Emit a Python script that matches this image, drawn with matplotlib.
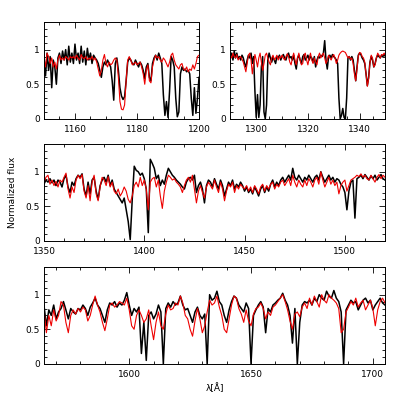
import numpy as np
import matplotlib
matplotlib.use("Agg")
import matplotlib.pyplot as plt
from matplotlib.ticker import MultipleLocator

# ---------------- data ----------------
# Panel 1: 1150-1200 A, step 0.5
wl1_start, wl1_step = 1150.0, 0.5
obs1 = [0.85, 0.62, 0.95, 0.70, 0.90, 0.45, 0.85, 0.75, 0.50, 0.88,
        0.95, 0.80, 0.98, 0.85, 1.00, 0.78, 1.05, 0.82, 0.95, 0.80,
        1.08, 0.85, 0.95, 0.80, 1.05, 0.82, 0.98, 0.78, 1.02, 0.85,
        0.95, 0.80, 0.92, 0.88, 0.85, 0.80, 0.70, 0.60, 0.75, 0.82,
        0.78, 0.85, 0.80, 0.75, 0.55, 0.27, 0.80, 0.88, 0.70, 0.45,
        0.33, 0.28, 0.32, 0.55, 0.82, 0.88, 0.85, 0.80, 0.78, 0.85,
        0.80, 0.75, 0.82, 0.78, 0.70, 0.58, 0.75, 0.80, 0.60, 0.55,
        0.80, 0.88, 0.92, 0.85, 0.95, 0.88, 0.80, 0.35, 0.05, 0.25,
        0.02, 0.40, 0.90, 0.85, 0.75, 0.30, 0.03, 0.10, 0.65, 0.75,
        0.70, 0.72, 0.68, 0.70, 0.65, 0.30, 0.05, 0.45, 0.08, 0.30,
        0.60]
mod1 = [0.88, 0.75, 0.95, 0.90, 0.80, 0.88, 0.75, 0.82, 0.72, 0.85,
        0.92, 0.85, 0.88, 0.85, 0.90, 0.88, 0.85, 0.90, 0.88, 0.90,
        0.87, 0.92, 0.88, 0.85, 0.93, 0.88, 0.87, 0.90, 0.85, 0.88,
        0.86, 0.90, 0.85, 0.88, 0.82, 0.72, 0.62, 0.70, 0.85, 0.93,
        0.80, 0.75, 0.82, 0.78, 0.80, 0.85, 0.88, 0.85, 0.60, 0.25,
        0.14, 0.13, 0.20, 0.55, 0.85, 0.90, 0.85, 0.78, 0.80, 0.82,
        0.78, 0.80, 0.82, 0.75, 0.65, 0.50, 0.70, 0.78, 0.55, 0.52,
        0.75, 0.85, 0.92, 0.88, 0.90, 0.85, 0.82, 0.88, 0.85, 0.80,
        0.75, 0.82, 0.92, 0.95, 0.85, 0.78, 0.75, 0.72, 0.78, 0.80,
        0.72, 0.70, 0.75, 0.68, 0.72, 0.70, 0.78, 0.72, 0.80, 0.90,
        0.92]

# Panel 2: 1290-1350 A, step 0.5
wl2_start, wl2_step = 1290.0, 0.5
obs2 = [0.90, 0.95, 0.85, 0.98, 0.88, 0.95, 0.87, 0.90, 0.85, 0.92,
        0.88, 0.80, 0.75, 0.85, 0.92, 0.88, 0.95, 0.80, 0.90, 0.40,
        0.02, 0.35, 0.02, 0.20, 0.75, 0.90, 0.10, 0.00, 0.20, 0.85,
        0.95, 0.88, 0.82, 0.90, 0.85, 0.80, 0.90, 0.88, 0.92, 0.85,
        0.90, 0.93, 0.88, 0.85, 0.92, 0.95, 0.88, 0.90, 0.85, 0.92,
        0.80, 0.72, 0.88, 0.92, 0.85, 0.80, 0.90, 0.93, 0.85, 0.88,
        0.92, 0.85, 0.90, 0.88, 0.82, 0.90, 0.75, 0.85, 0.90, 0.88,
        0.92, 0.90, 0.95, 1.13, 0.85, 0.72, 0.90, 0.92, 0.88, 0.93,
        0.90, 0.88, 0.85, 0.80, 0.30, 0.00, 0.05, 0.15, 0.02, 0.00,
        0.30, 0.88, 0.90, 0.85, 0.90, 0.85, 0.70, 0.55, 0.75, 0.92,
        0.95, 0.93, 0.88, 0.85, 0.80, 0.65, 0.48, 0.60, 0.82, 0.90,
        0.85, 0.75, 0.80, 0.88, 0.92, 0.90, 0.88, 0.92, 0.90, 0.93,
        0.90]
mod2 = [0.92, 0.88, 0.95, 0.90, 0.88, 0.93, 0.85, 0.88, 0.90, 0.86,
        0.82, 0.75, 0.68, 0.80, 0.92, 0.95, 0.85, 0.65, 0.80, 0.93,
        0.85, 0.75, 0.88, 0.95, 0.82, 0.70, 0.80, 0.92, 0.95, 0.88,
        0.82, 0.78, 0.88, 0.92, 0.85, 0.88, 0.92, 0.85, 0.90, 0.88,
        0.92, 0.88, 0.85, 0.90, 0.94, 0.90, 0.82, 0.78, 0.88, 0.95,
        0.85, 0.78, 0.88, 0.95, 0.85, 0.78, 0.80, 0.92, 0.95, 0.85,
        0.78, 0.88, 0.95, 0.85, 0.80, 0.88, 0.82, 0.78, 0.90, 0.95,
        0.88, 0.92, 0.95, 0.88, 0.80, 0.85, 0.92, 0.88, 0.85, 0.90,
        0.93, 0.88, 0.80, 0.85, 0.92, 0.95, 0.97, 0.98, 0.97, 0.96,
        0.92, 0.88, 0.90, 0.86, 0.88, 0.80, 0.65, 0.55, 0.72, 0.90,
        0.96, 0.95, 0.90, 0.88, 0.82, 0.65, 0.47, 0.58, 0.80, 0.92,
        0.88, 0.75, 0.78, 0.88, 0.95, 0.92, 0.88, 0.93, 0.92, 0.95,
        0.92]

# Panel 3: 1350-1520 A, step 1
wl3_start, wl3_step = 1350.0, 1.0
obs3 = [0.82, 0.88, 0.85, 0.90, 0.84, 0.88, 0.80, 0.88, 0.85, 0.78,
        0.90, 0.95, 0.78, 0.70, 0.85, 0.80, 0.90, 0.95, 0.92, 0.97,
        0.75, 0.65, 0.85, 0.68, 0.88, 0.92, 0.72, 0.60, 0.80, 0.88,
        0.92, 0.85, 0.95, 0.80, 0.88, 0.75, 0.70, 0.65, 0.60, 0.55,
        0.62, 0.45, 0.28, 0.02, 0.60, 1.08, 1.02, 1.00, 0.95, 0.98,
        0.90, 0.75, 0.12, 1.18, 1.12, 1.05, 0.90, 0.95, 0.80, 0.88,
        0.82, 0.95, 1.05, 1.00, 0.95, 0.92, 0.88, 0.85, 0.82, 0.78,
        0.75, 0.85, 0.90, 0.92, 0.88, 0.95, 0.70, 0.80, 0.85, 0.75,
        0.55, 0.80, 0.88, 0.85, 0.78, 0.90, 0.82, 0.75, 0.88, 0.80,
        0.65, 0.75, 0.85, 0.80, 0.88, 0.75, 0.82, 0.78, 0.85, 0.80,
        0.72, 0.78, 0.70, 0.75, 0.68, 0.78, 0.72, 0.65, 0.75, 0.80,
        0.70, 0.78, 0.72, 0.82, 0.88, 0.78, 0.85, 0.80, 0.88, 0.92,
        0.85, 0.90, 0.95, 0.88, 1.05, 0.92, 0.88, 0.95, 0.90, 0.85,
        0.92, 0.88, 0.95, 0.90, 0.85, 0.92, 0.95, 0.88, 1.00, 0.92,
        0.85, 0.90, 0.95, 0.88, 0.92, 0.85, 0.90, 0.88, 0.82, 0.78,
        0.70, 0.45, 0.72, 0.85, 0.88, 0.33, 0.90, 0.92, 0.95, 0.90,
        0.96, 0.92, 0.88, 0.94, 0.90, 0.95, 0.88, 0.92, 0.96, 0.90,
        0.88]
mod3 = [0.85, 0.92, 0.95, 0.82, 0.88, 0.80, 0.86, 0.78, 0.88, 0.85,
        0.92, 0.98, 0.75, 0.62, 0.78, 0.70, 0.88, 0.95, 0.90, 0.96,
        0.72, 0.62, 0.80, 0.58, 0.85, 0.95, 0.68, 0.58, 0.78, 0.92,
        0.88, 0.80, 0.93, 0.78, 0.85, 0.72, 0.68, 0.75, 0.65, 0.70,
        0.78, 0.72, 0.60, 0.55, 0.65, 0.80, 0.85, 0.78, 0.92, 0.80,
        0.88, 0.75, 0.45, 0.85, 0.90, 0.92, 0.78, 0.88, 0.65, 0.47,
        0.72, 0.85, 0.95, 0.92, 0.88, 0.90, 0.85, 0.82, 0.78, 0.70,
        0.80, 0.88, 0.92, 0.85, 0.95, 0.75, 0.55, 0.72, 0.80, 0.70,
        0.62, 0.78, 0.85, 0.80, 0.75, 0.88, 0.78, 0.70, 0.85, 0.75,
        0.58, 0.72, 0.82, 0.78, 0.85, 0.70, 0.80, 0.75, 0.82, 0.78,
        0.75, 0.80, 0.72, 0.78, 0.70, 0.80, 0.75, 0.68, 0.78, 0.82,
        0.72, 0.80, 0.75, 0.82, 0.85, 0.75, 0.82, 0.78, 0.85, 0.88,
        0.80, 0.85, 0.90, 0.80, 0.95, 0.85, 0.78, 0.88, 0.82, 0.78,
        0.88, 0.80, 0.90, 0.85, 0.78, 0.88, 0.92, 0.82, 1.00, 0.88,
        0.78, 0.85, 0.92, 0.82, 0.88, 0.80, 0.85, 0.68, 0.80, 0.85,
        0.88, 0.72, 0.80, 0.88, 0.90, 0.92, 0.95, 0.93, 0.97, 0.92,
        0.95, 0.90, 0.88, 0.95, 0.90, 0.85, 0.92, 0.96, 0.90, 0.95,
        0.92]

# Panel 4: 1565-1705 A, step 1
wl4_start, wl4_step = 1565.0, 1.0
obs4 = [0.85, 0.55, 0.78, 0.70, 0.85, 0.65, 0.75, 0.80, 0.90, 0.78,
        0.65, 0.80, 0.75, 0.72, 0.80, 0.78, 0.85, 0.80, 0.70, 0.82,
        0.88, 0.95, 0.85, 0.80, 0.70, 0.60, 0.78, 0.88, 0.85, 0.90,
        0.82, 0.88, 0.85, 0.92, 1.03, 0.85, 0.70, 0.80, 0.75, 0.82,
        0.15, 0.60, 0.05, 0.70, 0.75, 0.65, 0.72, 0.85, 0.75, 0.00,
        0.80, 0.88, 0.82, 0.90, 0.85, 0.88, 0.98, 0.85, 0.78, 0.80,
        0.70, 0.60, 0.75, 0.82, 0.70, 0.65, 0.72, 0.00, 1.00, 0.92,
        0.95, 1.05, 0.90, 0.85, 0.70, 0.60, 0.78, 0.90, 0.98, 0.95,
        0.85, 0.80, 0.75, 0.88, 0.80, 0.00, 0.70, 0.78, 0.85, 0.90,
        0.82, 0.45, 0.80, 0.75, 0.85, 0.88, 0.92, 0.95, 1.02, 0.92,
        0.85, 0.70, 0.30, 0.80, 0.00, 0.60, 0.85, 0.90, 0.88, 0.92,
        0.85, 0.95, 0.90, 1.00, 0.95, 0.92, 1.05, 0.98, 0.95, 1.06,
        0.95, 0.90, 0.75, 0.00, 0.78, 0.85, 0.92, 0.88, 0.90, 0.78,
        0.85, 0.92, 0.95, 0.88, 0.92, 0.78, 0.85, 0.90, 0.95, 0.88,
        0.85]
mod4 = [0.78, 0.45, 0.70, 0.55, 0.78, 0.62, 0.70, 0.90, 0.85, 0.60,
        0.45, 0.70, 0.78, 0.72, 0.80, 0.75, 0.82, 0.78, 0.62, 0.70,
        0.85, 0.98, 0.85, 0.75, 0.60, 0.48, 0.65, 0.85, 0.88, 0.82,
        0.85, 0.90, 0.88, 0.85, 0.95, 0.78, 0.55, 0.50, 0.70, 0.78,
        0.70, 0.60, 0.65, 0.78, 0.55, 0.35, 0.60, 0.75, 0.55, 0.50,
        0.72, 0.85, 0.78, 0.80, 0.88, 0.85, 0.98, 0.88, 0.70, 0.65,
        0.50, 0.40, 0.62, 0.80, 0.65, 0.45, 0.55, 0.75, 0.92, 0.85,
        0.88, 0.98, 0.82, 0.70, 0.50, 0.45, 0.65, 0.85, 0.98, 0.95,
        0.80, 0.72, 0.60, 0.78, 0.62, 0.55, 0.72, 0.80, 0.82, 0.88,
        0.80, 0.65, 0.75, 0.70, 0.82, 0.85, 0.90, 0.95, 1.00, 0.90,
        0.78, 0.62, 0.50, 0.72, 0.75, 0.68, 0.82, 0.88, 0.80, 0.95,
        0.85, 0.98, 0.90, 0.82, 1.00, 0.92, 0.88, 1.00, 0.95, 0.92,
        0.88, 0.80, 0.45, 0.50, 0.75, 0.82, 0.90, 0.85, 0.95, 0.82,
        0.88, 0.92, 0.78, 0.85, 0.92, 0.80, 0.55, 0.78, 0.90, 0.95,
        0.88]

panels = [
    (wl1_start, wl1_step, obs1, mod1, (1150, 1200), 20, 5),
    (wl2_start, wl2_step, obs2, mod2, (1290, 1350), 20, 5),
    (wl3_start, wl3_step, obs3, mod3, (1350, 1520), 50, 10),
    (wl4_start, wl4_step, obs4, mod4, (1565, 1705), 50, 10),
]

# ---------------- figure ----------------
fig = plt.figure(figsize=(4.07, 4.07), dpi=100)
rects = [
    (0.108, 0.708, 0.381, 0.238),
    (0.566, 0.708, 0.381, 0.238),
    (0.108, 0.408, 0.838, 0.238),
    (0.108, 0.106, 0.838, 0.238),
]

fs = 6.5
for rect, (w0, dw, obs, mod, xl, maj, mnr) in zip(rects, panels):
    ax = fig.add_axes(rect)
    wl_obs = w0 + dw * np.arange(len(obs))
    wl_mod = w0 + dw * np.arange(len(mod))
    ax.plot(wl_obs, obs, color="black", lw=1.1)
    ax.plot(wl_mod, mod, color="#ee0000", lw=0.8)
    ax.set_xlim(*xl)
    ax.set_ylim(0, 1.4)
    ax.xaxis.set_major_locator(MultipleLocator(maj))
    ax.xaxis.set_minor_locator(MultipleLocator(mnr))
    ax.yaxis.set_major_locator(MultipleLocator(0.5))
    ax.yaxis.set_minor_locator(MultipleLocator(0.1))
    ax.yaxis.set_major_formatter(plt.FuncFormatter(lambda v, p: f"{v:g}"))
    ax.tick_params(which="both", direction="in", top=True, right=True,
                   labelsize=fs, width=0.6)
    ax.tick_params(axis="x", which="major", pad=4.5)
    ax.tick_params(axis="y", which="major", pad=3)
    ax.tick_params(which="major", length=4)
    ax.tick_params(which="minor", length=2)
    for s in ax.spines.values():
        s.set_linewidth(0.7)
    if xl == (1350, 1520):
        ax.set_ylabel("Normalized flux", fontsize=fs, labelpad=6)
    if xl == (1565, 1705):
        ax.set_xlabel("λ[Å]", fontsize=fs, labelpad=3)

fig.savefig("out.png", dpi=100)
